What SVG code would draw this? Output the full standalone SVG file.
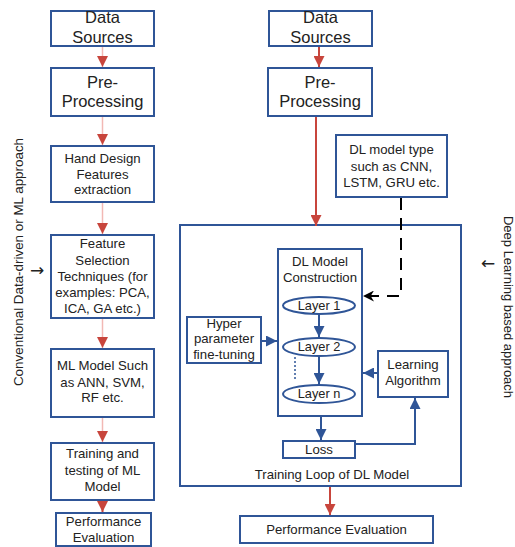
<svg xmlns="http://www.w3.org/2000/svg" width="515" height="547" viewBox="0 0 515 547">
<defs>
<marker id="red" viewBox="0 0 10 10" refX="10" refY="5" markerWidth="11" markerHeight="11" markerUnits="userSpaceOnUse" orient="auto"><path d="M0,0 L10,5 L0,10 z" fill="#C8453C"/></marker>
<marker id="blue" viewBox="0 0 10 10" refX="10" refY="5" markerWidth="11" markerHeight="11" markerUnits="userSpaceOnUse" orient="auto"><path d="M0,0 L10,5 L0,10 z" fill="#2F5597"/></marker>
<marker id="black" viewBox="0 0 10 10" refX="10" refY="5" markerWidth="11" markerHeight="11" markerUnits="userSpaceOnUse" orient="auto"><path d="M0,0 L10,5 L0,10 L3,5 z" fill="#000"/></marker>
</defs>
<style>
.box{fill:#fff;stroke:#2F5597;stroke-width:2}
.frame{fill:none;stroke:#2F5597;stroke-width:2}
text{font-family:"Liberation Sans",Arial,sans-serif;fill:#222;text-anchor:middle}
.big{font-size:16.5px}
.mid{font-size:13.2px}
.sm{font-size:13.2px}
.lay{font-size:12.8px}
.arr{font-family:"DejaVu Sans",sans-serif;font-size:17px}
.pale{stroke:#F2B8B4;stroke-width:1.5;fill:none}
.redl{stroke:#C8453C;stroke-width:2;fill:none}
.bluel{stroke:#2F5597;stroke-width:2;fill:none}
</style>
<rect width="515" height="547" fill="#fff"/>

<g id="left-data-sources"><rect class="box" x="51" y="11" width="103" height="35"/><text class="big" x="102.5" y="23">Data</text><text class="big" x="102.5" y="43">Sources</text></g>
<g id="left-preprocessing"><rect class="box" x="51" y="68" width="103" height="48"/><text class="big" x="102.5" y="88">Pre-</text><text class="big" x="102.5" y="107">Processing</text></g>
<g id="hand-design"><rect class="box" x="51" y="146" width="103" height="56"/><text class="sm" x="102.5" y="163">Hand Design</text><text class="sm" x="102.5" y="178.5">Features</text><text class="sm" x="102.5" y="194">extraction</text></g>
<g id="feature-selection"><rect class="box" x="51" y="235" width="103" height="83"/><text class="mid" x="102.5" y="248">Feature</text><text class="mid" x="102.5" y="264.5">Selection</text><text class="mid" x="102.5" y="280.5">Techniques (for</text><text class="mid" x="102.5" y="297">examples: PCA,</text><text class="mid" x="102.5" y="313">ICA, GA etc.)</text></g>
<g id="ml-model"><rect class="box" x="51" y="349" width="103" height="68"/><text class="mid" x="102.5" y="370">ML Model Such</text><text class="mid" x="102.5" y="386.5">as ANN, SVM,</text><text class="mid" x="102.5" y="402">RF etc.</text></g>
<g id="training-testing"><rect class="box" x="51" y="443" width="103" height="57"/><text class="mid" x="102.5" y="458">Training and</text><text class="mid" x="102.5" y="474.5">testing of ML</text><text class="mid" x="102.5" y="491">Model</text></g>
<g id="left-performance"><rect class="box" x="56" y="513" width="95" height="33"/><text class="mid" x="103.5" y="526">Performance</text><text class="mid" x="103.5" y="541.5">Evaluation</text></g>

<g id="right-data-sources"><rect class="box" x="269" y="11" width="103" height="35"/><text class="big" x="320.5" y="23">Data</text><text class="big" x="320.5" y="43">Sources</text></g>
<g id="right-preprocessing"><rect class="box" x="268" y="68" width="104" height="48"/><text class="big" x="320" y="87.5">Pre-</text><text class="big" x="320" y="107">Processing</text></g>
<g id="dl-model-type"><rect class="box" x="336" y="135" width="111" height="62"/><text class="sm" x="391.5" y="154">DL model type</text><text class="sm" x="391.5" y="170.5">such as CNN,</text><text class="sm" x="391.5" y="187">LSTM, GRU etc.</text></g>
<g id="training-loop"><rect class="frame" x="180" y="225" width="281" height="261"/><text class="mid" x="332" y="479">Training Loop of DL Model</text></g>
<g id="dl-construction"><rect class="frame" x="278" y="249" width="84" height="167"/><text class="sm" x="320" y="266">DL Model</text><text class="sm" x="320" y="282">Construction</text></g>
<g id="layer-1"><ellipse cx="319" cy="305.5" rx="36" ry="8.5" fill="#fff" stroke="#2F5597" stroke-width="2"/><text class="lay" x="319" y="309.5">Layer 1</text></g>
<g id="layer-2"><ellipse cx="319" cy="347" rx="36" ry="9" fill="#fff" stroke="#2F5597" stroke-width="2"/><text class="lay" x="319" y="351">Layer 2</text></g>
<g id="layer-n"><ellipse cx="319" cy="394" rx="36" ry="9" fill="#fff" stroke="#2F5597" stroke-width="2"/><text class="lay" x="319" y="398">Layer n</text></g>
<g id="hyper-parameter"><rect class="box" x="187" y="317" width="74" height="46"/><text class="sm" x="224" y="327.5">Hyper</text><text class="sm" x="224" y="343">parameter</text><text class="sm" x="224" y="358.5">fine-tuning</text></g>
<g id="learning-algorithm"><rect class="box" x="378" y="351" width="70" height="46"/><text class="sm" x="413" y="369">Learning</text><text class="sm" x="413" y="385">Algorithm</text></g>
<g id="loss"><rect class="box" x="283" y="441" width="72" height="17"/><text class="sm" x="319" y="453.5">Loss</text></g>
<g id="right-performance"><rect class="box" x="240" y="516" width="193" height="27"/><text class="mid" x="336.5" y="534">Performance Evaluation</text></g>

<g id="side-labels">
<text style="font-size:13.4px" transform="translate(23,262) rotate(-90)">Conventional Data-driven or ML approach</text>
<text class="arr" x="37" y="276">→</text>
<text style="font-size:13px" transform="translate(504,307) rotate(90)">Deep Learning based approach</text>
<text class="arr" x="488" y="269">←</text>
</g>

<g id="connectors">
<line class="pale" x1="102.5" y1="47" x2="102.5" y2="67" marker-end="url(#red)"/>
<line class="pale" x1="102.5" y1="117" x2="102.5" y2="145" marker-end="url(#red)"/>
<line class="pale" x1="102.5" y1="203" x2="102.5" y2="234" marker-end="url(#red)"/>
<line class="pale" x1="102.5" y1="319" x2="102.5" y2="348" marker-end="url(#red)"/>
<line class="pale" x1="102.5" y1="418" x2="102.5" y2="442" marker-end="url(#red)"/>
<line class="redl" x1="102.5" y1="501" x2="102.5" y2="512" marker-end="url(#red)"/>
<line class="redl" x1="319" y1="47" x2="319" y2="67" marker-end="url(#red)"/>
<line class="redl" x1="316" y1="117" x2="316" y2="226" marker-end="url(#red)"/>
<line class="redl" x1="330" y1="487" x2="330" y2="515" marker-end="url(#red)"/>
<path d="M401,198 V296 H363" fill="none" stroke="#000" stroke-width="2" stroke-dasharray="12,8" marker-end="url(#black)"/>
<line class="bluel" x1="319" y1="314" x2="319" y2="337" marker-end="url(#blue)"/>
<line class="bluel" x1="319" y1="356" x2="319" y2="384" marker-end="url(#blue)"/>
<line x1="295" y1="357" x2="295" y2="379" stroke="#2F5597" stroke-width="1.5" stroke-dasharray="2,2"/>
<line class="bluel" x1="262" y1="341" x2="277" y2="341" marker-end="url(#blue)"/>
<line class="bluel" x1="377" y1="373" x2="363" y2="373" marker-end="url(#blue)"/>
<line class="bluel" x1="321" y1="417" x2="321" y2="440" marker-end="url(#blue)"/>
<path class="bluel" d="M356,444 H415 V398" marker-end="url(#blue)"/>
</g>
</svg>
